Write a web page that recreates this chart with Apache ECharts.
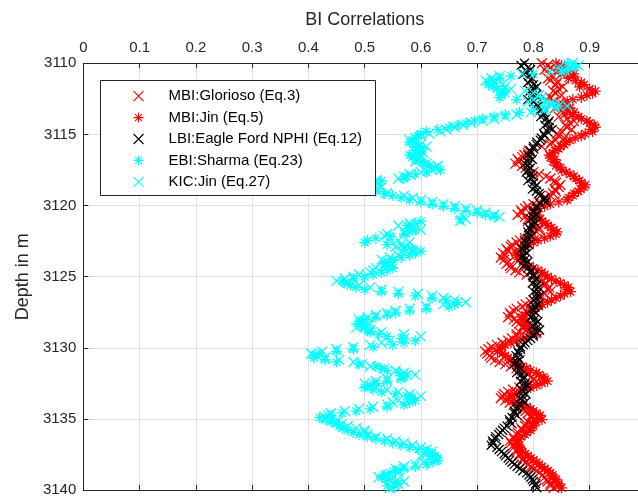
<!DOCTYPE html>
<html>
<head>
<meta charset="utf-8">
<script src="https://cdn.jsdelivr.net/npm/echarts@6/dist/echarts.min.js"></script>
<style>
html,body{margin:0;padding:0;background:#fff;}
#c{width:638px;height:500px;}
</style>
</head>
<body>
<div id="c"></div>
<script>
const depth = [
3110.00,3110.15,3110.30,3110.45,3110.60,3110.75,3110.90,3111.05,3111.20,3111.35,
3111.50,3111.65,3111.80,3111.95,3112.10,3112.25,3112.40,3112.55,3112.70,3112.85,
3113.00,3113.15,3113.30,3113.45,3113.60,3113.75,3113.90,3114.05,3114.20,3114.35,
3114.50,3114.65,3114.80,3114.95,3115.10,3115.25,3115.40,3115.55,3115.70,3115.85,
3116.00,3116.15,3116.30,3116.45,3116.60,3116.75,3116.90,3117.05,3117.20,3117.35,
3117.50,3117.65,3117.80,3117.95,3118.10,3118.25,3118.40,3118.55,3118.70,3118.85,
3119.00,3119.15,3119.30,3119.45,3119.60,3119.75,3119.90,3120.05,3120.20,3120.35,
3120.50,3120.65,3120.80,3120.95,3121.10,3121.25,3121.40,3121.55,3121.70,3121.85,
3122.00,3122.15,3122.30,3122.45,3122.60,3122.75,3122.90,3123.05,3123.20,3123.35,
3123.50,3123.65,3123.80,3123.95,3124.10,3124.25,3124.40,3124.55,3124.70,3124.85,
3125.00,3125.15,3125.30,3125.45,3125.60,3125.75,3125.90,3126.05,3126.20,3126.35,
3126.50,3126.65,3126.80,3126.95,3127.10,3127.25,3127.40,3127.55,3127.70,3127.85,
3128.00,3128.15,3128.30,3128.45,3128.60,3128.75,3128.90,3129.05,3129.20,3129.35,
3129.50,3129.65,3129.80,3129.95,3130.10,3130.25,3130.40,3130.55,3130.70,3130.85,
3131.00,3131.15,3131.30,3131.45,3131.60,3131.75,3131.90,3132.05,3132.20,3132.35,
3132.50,3132.65,3132.80,3132.95,3133.10,3133.25,3133.40,3133.55,3133.70,3133.85,
3134.00,3134.15,3134.30,3134.45,3134.60,3134.75,3134.90,3135.05,3135.20,3135.35,
3135.50,3135.65,3135.80,3135.95,3136.10,3136.25,3136.40,3136.55,3136.70,3136.85,
3137.00,3137.15,3137.30,3137.45,3137.60,3137.75,3137.90,3138.05,3138.20,3138.35,
3138.50,3138.65,3138.80,3138.95,3139.10,3139.25,3139.40,3139.55,3139.70,3139.85];

const mbiGlorioso = [
0.815,0.825,0.83,0.82,0.84,0.85,0.835,0.826,0.83,0.842,
0.84,0.852,0.845,0.835,0.84,0.85,0.83,0.822,0.835,0.845,
0.845,0.838,0.85,0.862,0.855,0.845,0.86,0.872,0.865,0.856,
0.86,0.868,0.85,0.842,0.845,0.855,0.84,0.832,0.83,0.815,
0.80,0.792,0.79,0.784,0.78,0.772,0.775,0.768,0.78,0.786,
0.79,0.80,0.81,0.822,0.83,0.838,0.84,0.848,0.845,0.838,
0.84,0.835,0.83,0.822,0.82,0.81,0.80,0.79,0.785,0.778,
0.78,0.772,0.785,0.79,0.79,0.798,0.80,0.81,0.81,0.806,
0.80,0.792,0.785,0.776,0.77,0.762,0.76,0.752,0.755,0.746,
0.75,0.742,0.748,0.756,0.752,0.758,0.76,0.768,0.775,0.788,
0.80,0.808,0.815,0.822,0.82,0.828,0.825,0.83,0.82,0.815,
0.81,0.80,0.795,0.786,0.78,0.77,0.765,0.758,0.76,0.755,
0.765,0.77,0.775,0.782,0.78,0.786,0.775,0.77,0.77,0.762,
0.755,0.745,0.735,0.726,0.72,0.714,0.718,0.722,0.725,0.732,
0.74,0.75,0.76,0.77,0.78,0.786,0.79,0.796,0.80,0.805,
0.795,0.786,0.775,0.764,0.755,0.748,0.745,0.742,0.75,0.758,
0.765,0.772,0.78,0.786,0.79,0.796,0.795,0.80,0.79,0.786,
0.785,0.778,0.78,0.772,0.77,0.764,0.765,0.758,0.76,0.764,
0.765,0.77,0.77,0.776,0.775,0.782,0.78,0.786,0.79,0.795,
0.80,0.806,0.81,0.816,0.82,0.824,0.825,0.83,0.83,0.836];

const mbiJin = [
0.84,0.85,0.855,0.845,0.86,0.872,0.87,0.862,0.875,0.885,
0.89,0.882,0.90,0.91,0.905,0.895,0.885,0.87,0.86,0.852,
0.855,0.865,0.86,0.872,0.87,0.88,0.885,0.895,0.90,0.908,
0.91,0.902,0.905,0.892,0.885,0.874,0.865,0.858,0.855,0.848,
0.845,0.838,0.835,0.828,0.83,0.838,0.835,0.842,0.84,0.848,
0.85,0.858,0.865,0.872,0.875,0.882,0.885,0.892,0.89,0.884,
0.88,0.872,0.87,0.862,0.86,0.845,0.83,0.82,0.81,0.802,
0.80,0.808,0.805,0.812,0.815,0.822,0.825,0.832,0.835,0.842,
0.84,0.83,0.82,0.808,0.80,0.792,0.785,0.778,0.775,0.768,
0.77,0.776,0.775,0.782,0.785,0.792,0.80,0.808,0.815,0.82,
0.825,0.832,0.84,0.848,0.855,0.862,0.86,0.866,0.855,0.848,
0.84,0.832,0.825,0.815,0.81,0.80,0.795,0.788,0.785,0.78,
0.78,0.786,0.785,0.79,0.795,0.80,0.80,0.806,0.79,0.782,
0.77,0.76,0.75,0.744,0.74,0.736,0.745,0.75,0.755,0.76,
0.765,0.772,0.78,0.788,0.795,0.805,0.81,0.818,0.82,0.825,
0.815,0.806,0.795,0.784,0.775,0.766,0.76,0.755,0.765,0.772,
0.78,0.788,0.795,0.80,0.805,0.812,0.81,0.815,0.805,0.80,
0.80,0.795,0.795,0.788,0.785,0.778,0.775,0.77,0.77,0.774,
0.775,0.778,0.78,0.786,0.79,0.796,0.80,0.806,0.81,0.815,
0.82,0.826,0.83,0.834,0.835,0.84,0.84,0.845,0.845,0.85];

const lbiEagleFord = [
0.784,0.778,0.79,0.795,0.788,0.782,0.792,0.798,0.796,0.79,
0.80,0.806,0.80,0.794,0.798,0.804,0.796,0.79,0.80,0.806,
0.808,0.803,0.812,0.818,0.818,0.813,0.822,0.828,0.826,0.82,
0.828,0.833,0.825,0.818,0.82,0.814,0.812,0.806,0.805,0.80,
0.80,0.794,0.796,0.79,0.793,0.798,0.79,0.785,0.79,0.795,
0.792,0.787,0.794,0.80,0.796,0.79,0.80,0.806,0.803,0.798,
0.805,0.81,0.812,0.82,0.818,0.822,0.812,0.806,0.805,0.80,
0.80,0.806,0.80,0.795,0.80,0.804,0.798,0.792,0.795,0.79,
0.792,0.797,0.79,0.784,0.787,0.792,0.785,0.779,0.784,0.789,
0.783,0.778,0.785,0.79,0.787,0.782,0.79,0.796,0.795,0.80,
0.80,0.805,0.803,0.798,0.805,0.81,0.806,0.80,0.806,0.811,
0.805,0.80,0.804,0.809,0.802,0.797,0.80,0.805,0.80,0.795,
0.802,0.808,0.804,0.798,0.806,0.811,0.806,0.80,0.80,0.795,
0.79,0.785,0.782,0.777,0.777,0.772,0.774,0.769,0.772,0.776,
0.77,0.765,0.772,0.777,0.775,0.77,0.778,0.783,0.782,0.777,
0.785,0.79,0.784,0.779,0.782,0.787,0.781,0.776,0.78,0.785,
0.776,0.771,0.77,0.766,0.766,0.771,0.762,0.757,0.758,0.762,
0.753,0.748,0.745,0.741,0.738,0.733,0.732,0.727,0.728,0.725,
0.735,0.739,0.743,0.748,0.75,0.755,0.758,0.762,0.766,0.771,
0.776,0.781,0.788,0.792,0.795,0.798,0.80,0.804,0.803,0.806];

const ebiSharma = [
0.86,0.87,0.875,0.862,0.85,0.80,0.76,0.74,0.73,0.72,
0.72,0.728,0.735,0.745,0.75,0.742,0.74,0.77,0.82,0.835,
0.845,0.82,0.80,0.775,0.75,0.73,0.71,0.695,0.68,0.665,
0.65,0.63,0.61,0.60,0.595,0.59,0.585,0.58,0.59,0.595,
0.60,0.595,0.59,0.58,0.585,0.59,0.60,0.605,0.615,0.625,
0.635,0.61,0.59,0.575,0.57,0.53,0.52,0.51,0.50,0.505,
0.52,0.535,0.55,0.565,0.58,0.60,0.62,0.64,0.66,0.68,
0.70,0.715,0.73,0.67,0.60,0.59,0.575,0.58,0.59,0.58,
0.57,0.545,0.52,0.505,0.50,0.54,0.57,0.585,0.60,0.59,
0.58,0.565,0.55,0.54,0.535,0.545,0.55,0.54,0.53,0.515,
0.50,0.48,0.46,0.465,0.475,0.485,0.50,0.53,0.56,0.59,
0.62,0.645,0.665,0.66,0.65,0.61,0.58,0.555,0.54,0.52,
0.50,0.49,0.49,0.495,0.50,0.505,0.51,0.525,0.54,0.565,
0.59,0.57,0.55,0.515,0.48,0.45,0.42,0.41,0.41,0.43,
0.45,0.49,0.52,0.53,0.54,0.56,0.575,0.57,0.565,0.54,
0.52,0.51,0.50,0.515,0.53,0.555,0.575,0.585,0.59,0.58,
0.57,0.54,0.51,0.485,0.46,0.44,0.42,0.43,0.44,0.45,
0.455,0.46,0.47,0.48,0.49,0.505,0.52,0.535,0.55,0.565,
0.58,0.595,0.61,0.62,0.625,0.63,0.63,0.62,0.61,0.59,
0.57,0.555,0.545,0.535,0.53,0.54,0.555,0.56,0.54,0.55];

const kicJin = [
0.87,0.88,0.845,0.855,0.83,0.78,0.74,0.725,0.715,0.73,
0.745,0.75,0.76,0.785,0.80,0.81,0.815,0.80,0.79,0.83,
0.86,0.84,0.82,0.795,0.77,0.75,0.73,0.71,0.69,0.675,
0.66,0.645,0.635,0.615,0.60,0.59,0.58,0.59,0.60,0.61,
0.585,0.60,0.605,0.60,0.60,0.595,0.59,0.61,0.63,0.625,
0.62,0.60,0.58,0.57,0.56,0.52,0.50,0.515,0.53,0.52,
0.51,0.54,0.57,0.585,0.60,0.62,0.64,0.66,0.68,0.70,
0.715,0.73,0.74,0.68,0.67,0.58,0.56,0.58,0.60,0.57,
0.54,0.535,0.545,0.56,0.58,0.565,0.555,0.57,0.585,0.57,
0.56,0.545,0.53,0.54,0.55,0.535,0.52,0.515,0.51,0.49,
0.48,0.465,0.45,0.47,0.49,0.51,0.53,0.56,0.595,0.62,
0.64,0.66,0.68,0.64,0.61,0.58,0.555,0.54,0.52,0.505,
0.49,0.50,0.51,0.50,0.485,0.51,0.53,0.57,0.60,0.57,
0.545,0.53,0.51,0.48,0.45,0.425,0.405,0.415,0.43,0.455,
0.48,0.495,0.51,0.535,0.555,0.57,0.59,0.565,0.54,0.52,
0.50,0.51,0.52,0.54,0.56,0.58,0.60,0.58,0.56,0.55,
0.54,0.515,0.49,0.465,0.44,0.435,0.43,0.44,0.45,0.46,
0.47,0.485,0.50,0.50,0.505,0.52,0.54,0.555,0.57,0.585,
0.60,0.61,0.62,0.61,0.60,0.615,0.625,0.605,0.59,0.57,
0.555,0.56,0.56,0.54,0.525,0.545,0.57,0.56,0.555,0.545];

const seriesNames = ['MBI:Glorioso (Eq.3)','MBI:Jin (Eq.5)','LBI:Eagle Ford NPHI (Eq.12)','EBI:Sharma (Eq.23)','KIC:Jin (Eq.27)'];
const xTicks = [0,0.1,0.2,0.3,0.4,0.5,0.6,0.7,0.8,0.9,1];
const yTicks = [3110,3115,3120,3125,3130,3135,3140];

const X_PATH = 'path://M0,0L8,8M8,0L0,8';
const STAR_PATH = 'path://M0,4L8,4M4,0L4,8M1.2,1.2L6.8,6.8M6.8,1.2L1.2,6.8';
const FONT = 'Liberation Sans, Arial, Helvetica, sans-serif';
const TXT = '#262626';

function pairs(vals){ return vals.map((v,i)=>[v, depth[i]]); }

function mk(name, vals, color, sym, size){
  return {
    name: name, type: 'scatter', data: pairs(vals),
    symbol: sym, symbolSize: size,
    itemStyle: {color: 'rgba(0,0,0,0)', borderColor: color, borderWidth: 1.25, opacity: 1},
    emphasis: {disabled: true},
    clip: true
  };
}

const chart = echarts.init(document.getElementById('c'), null, {renderer: 'canvas'});
const plotLeft = 83.3, plotTop = 63.3, plotW = 562.7, plotH = 426.7;

chart.setOption({
  animation: false,
  backgroundColor: '#ffffff',
  textStyle: {fontFamily: FONT, color: TXT},
  title: {
    text: 'BI Correlations', left: plotLeft + plotW/2, top: 11, textAlign: 'center', padding: 0,
    textStyle: {fontFamily: FONT, fontSize: 18, fontWeight: 'normal', color: TXT}
  },
  grid: {left: plotLeft, top: plotTop, width: plotW, height: plotH, containLabel: false, outerBoundsMode: 'none'},
  xAxis: [{
    type: 'value', position: 'top', min: xTicks[0], max: xTicks[xTicks.length-1], interval: 0.1,
    axisLine: {show: true, onZero: false, lineStyle: {color: TXT, width: 1}},
    axisTick: {show: true, inside: true, length: 5, lineStyle: {color: TXT}},
    axisLabel: {show: true, margin: 8, fontSize: 15, fontFamily: FONT, color: TXT,
      formatter: v => String(Math.round(v*10)/10)},
    splitLine: {show: true, lineStyle: {color: '#dfdfdf', width: 1}}
  },{
    type: 'value', position: 'bottom', min: xTicks[0], max: xTicks[xTicks.length-1], interval: 0.1,
    axisLine: {show: true, onZero: false, lineStyle: {color: TXT, width: 1}},
    axisTick: {show: true, inside: true, length: 5, lineStyle: {color: TXT}},
    axisLabel: {show: false},
    splitLine: {show: false}
  }],
  yAxis: [{
    type: 'value', inverse: true, min: yTicks[0], max: yTicks[yTicks.length-1], interval: 5,
    axisLine: {show: true, onZero: false, lineStyle: {color: TXT, width: 1}},
    axisTick: {show: true, inside: true, length: 5, lineStyle: {color: TXT}},
    axisLabel: {show: true, margin: 7, fontSize: 15, fontFamily: FONT, color: TXT,
      formatter: v => String(v)},
    splitLine: {show: true, lineStyle: {color: '#dfdfdf', width: 1}}
  }],
  legend: {
    orient: 'vertical', left: 133, top: 85.5, padding: 0, itemGap: 0,
    itemWidth: 10, itemHeight: 10, z: 200,
    backgroundColor: 'rgba(0,0,0,0)',
    selectedMode: false,
    itemStyle: {borderWidth: 1.1},
    textStyle: {fontFamily: FONT, fontSize: 15, color: '#000', lineHeight: 21.4, padding: [0,0,0,20]},
    data: seriesNames
  },
  graphic: [
    {type: 'rect', z: 100, shape: {x: 100.5, y: 80.5, width: 275, height: 115},
      style: {fill: '#ffffff', stroke: TXT, lineWidth: 1}},
    {type: 'text', z: 100, x: 23, y: plotTop + plotH/2, rotation: Math.PI/2,
      style: {text: 'Depth in m', fontFamily: FONT, fontSize: 18, fill: TXT, align: 'center', verticalAlign: 'middle'}}
  ],
  series: [
    mk(seriesNames[0], mbiGlorioso, '#ff0000', X_PATH, 10),
    mk(seriesNames[1], mbiJin, '#ff0000', STAR_PATH, 11),
    mk(seriesNames[2], lbiEagleFord, '#000000', X_PATH, 9),
    mk(seriesNames[3], ebiSharma, '#00ffff', STAR_PATH, 11),
    mk(seriesNames[4], kicJin, '#00ffff', X_PATH, 10)
  ]
});
</script>
</body>
</html>
